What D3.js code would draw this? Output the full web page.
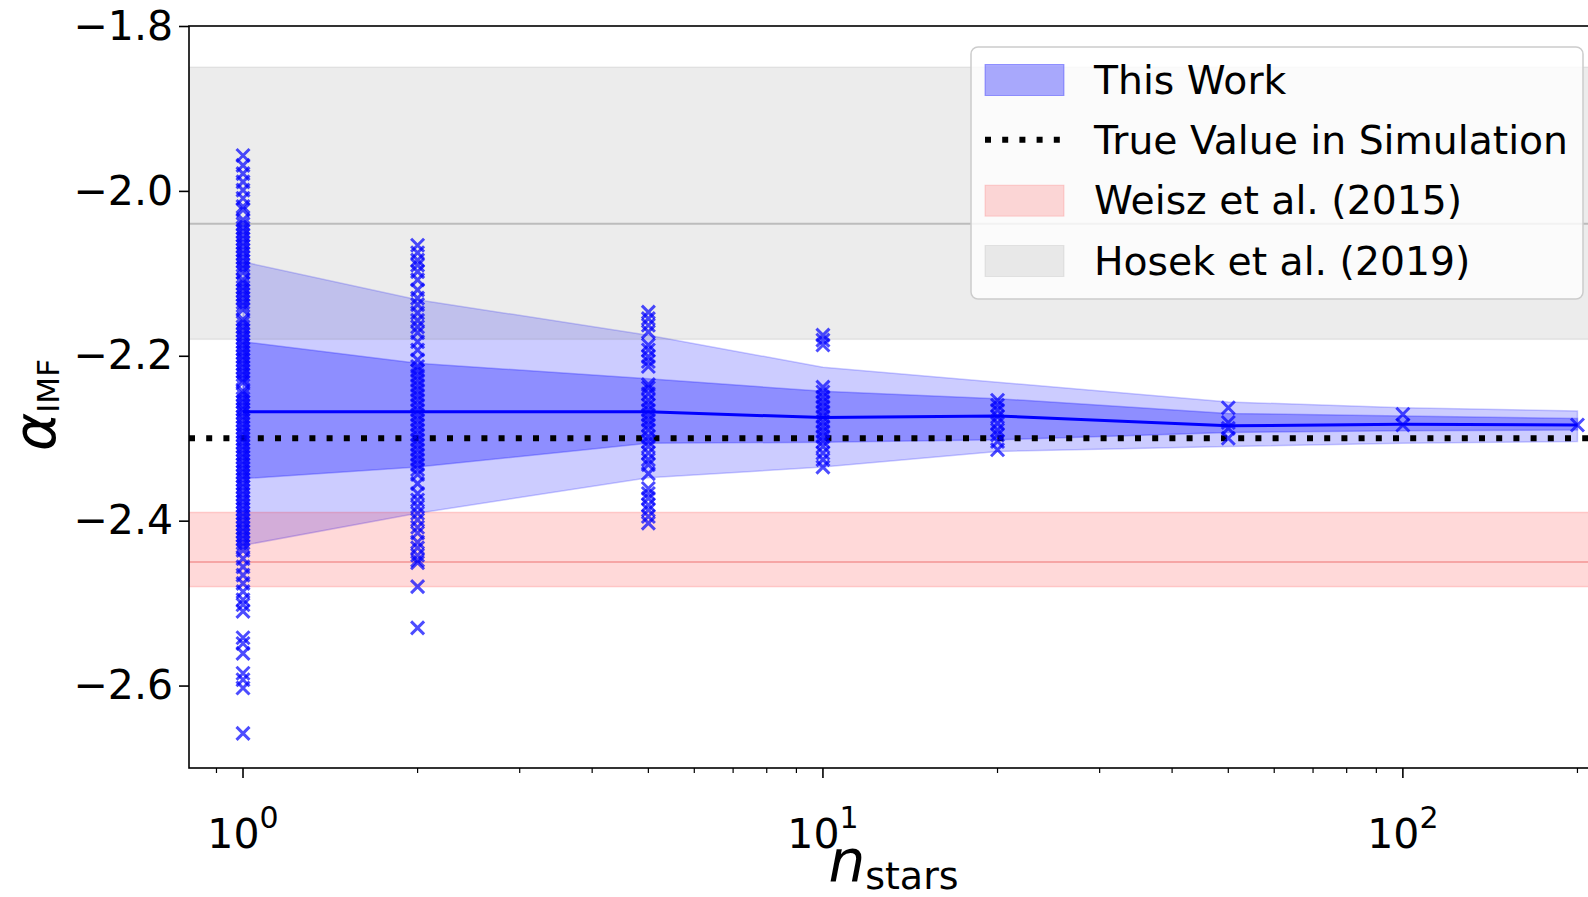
<!DOCTYPE html>
<html>
<head>
<meta charset="utf-8">
<script src="https://cdn.jsdelivr.net/npm/d3@7"></script>
<style>
  html, body { margin: 0; padding: 0; background: #fff; overflow: hidden; }
  svg { display: block; font-family: "DejaVu Sans", sans-serif; }
</style>
</head>
<body>
<svg id="chart"></svg>
<script>
// Number of stars per cluster
const nStars = [1, 2, 5, 10, 20, 50, 100, 200];

// Median and credible bands of alpha_IMF
const medianAlpha = [-2.268, -2.268, -2.268, -2.275, -2.273, -2.285, -2.283, -2.284];
const innerUpper = [-2.183, -2.209, -2.228, -2.243, -2.252, -2.270, -2.273, -2.276];
const innerLower = [-2.349, -2.335, -2.306, -2.305, -2.302, -2.293, -2.291, -2.290];
const outerUpper = [-2.086, -2.132, -2.175, -2.214, -2.232, -2.256, -2.263, -2.267];
const outerLower = [-2.430, -2.391, -2.348, -2.335, -2.316, -2.310, -2.306, -2.304];

// Individual fits (x markers)
const samplesN1 = [-1.957, -1.969, -1.979, -1.989, -1.999, -2.009, -2.019, -2.023, -2.035,
  -2.040, -2.045, -2.049, -2.054, -2.058, -2.063, -2.067, -2.072, -2.076, -2.081, -2.085,
  -2.090, -2.094, -2.099, -2.108, -2.112, -2.117, -2.121, -2.126, -2.130, -2.135, -2.139,
  -2.144, -2.156, -2.160, -2.165, -2.169, -2.174, -2.178, -2.183, -2.187, -2.192, -2.196,
  -2.201, -2.205, -2.210, -2.214, -2.219, -2.223, -2.228, -2.232, -2.243, -2.247, -2.252,
  -2.256, -2.261, -2.265, -2.269, -2.274, -2.278, -2.283, -2.287, -2.292, -2.296, -2.301,
  -2.305, -2.310, -2.314, -2.319, -2.323, -2.328, -2.332, -2.337, -2.341, -2.346, -2.350,
  -2.355, -2.359, -2.364, -2.368, -2.373, -2.377, -2.382, -2.386, -2.391, -2.395, -2.400,
  -2.404, -2.409, -2.413, -2.418, -2.422, -2.427, -2.431, -2.436,
  -2.446, -2.456, -2.466, -2.476, -2.486, -2.496, -2.502, -2.510, -2.542, -2.549, -2.561,
  -2.585, -2.593, -2.603, -2.658];
const samplesN2 = [-2.066, -2.075, -2.084, -2.090, -2.098, -2.108, -2.120, -2.130, -2.138,
  -2.148, -2.157, -2.165, -2.172, -2.183, -2.193, -2.205, -2.213, -2.218, -2.224, -2.230,
  -2.236, -2.242, -2.248, -2.254, -2.260, -2.266, -2.272, -2.278, -2.284, -2.290, -2.296,
  -2.302, -2.308, -2.314, -2.320, -2.326, -2.332, -2.338, -2.344, -2.355, -2.367, -2.375,
  -2.383, -2.391, -2.399, -2.408, -2.415, -2.426, -2.433, -2.442, -2.448, -2.451, -2.480,
  -2.530];
const samplesN5 = [-2.147, -2.155, -2.163, -2.171, -2.187, -2.193, -2.201, -2.207, -2.213,
  -2.235, -2.239, -2.246, -2.254, -2.260, -2.266, -2.272, -2.278, -2.284, -2.290, -2.298,
  -2.304, -2.310, -2.318, -2.326, -2.332, -2.343, -2.361, -2.367, -2.373, -2.381, -2.387,
  -2.395, -2.403];
const samplesN10 = [-2.175, -2.181, -2.187, -2.238, -2.244, -2.250, -2.256, -2.262, -2.268,
  -2.274, -2.280, -2.286, -2.292, -2.298, -2.304, -2.310, -2.318, -2.326, -2.335];
const samplesN20 = [-2.254, -2.260, -2.266, -2.274, -2.282, -2.290, -2.296, -2.304, -2.314];
const samplesN50 = [-2.263, -2.281, -2.288, -2.300];
const samplesN100 = [-2.271, -2.284];
const samplesN200 = [-2.284];
const samplesByN = [samplesN1, samplesN2, samplesN5, samplesN10, samplesN20, samplesN50, samplesN100, samplesN200];

// Reference values
const trueValue = -2.3;
const weisz = [-2.48, -2.45, -2.39];   // low, centre, high
const hosek = [-2.18, -2.04, -1.85];

// Axis ticks
const yTicks = [-2.6, -2.4, -2.2, -2.0, -1.8];
const xMajor = [1, 10, 100];
const legendLabels = ["This Work", "True Value in Simulation", "Weisz et al. (2015)", "Hosek et al. (2019)"];

// Sizes
const width = 1588;
const height = 897;
const marginLeft = 189;
const marginTop = 26;
const plotRight = 1598;
const plotBottom = 768;

const x = d3.scaleLog()
    .domain([0.807, 217])
    .range([marginLeft, plotRight]);

const y = d3.scaleLinear()
    .domain([-2.7, -1.8])
    .range([plotBottom, marginTop]);

const svg = d3.select("#chart")
    .attr("width", width)
    .attr("height", height)
    .attr("viewBox", [0, 0, width, height]);

svg.append("clipPath")
    .attr("id", "clip")
  .append("rect")
    .attr("x", marginLeft)
    .attr("y", marginTop)
    .attr("width", plotRight - marginLeft)
    .attr("height", plotBottom - marginTop);

const plot = svg.append("g").attr("clip-path", "url(#clip)");

const bands = nStars.map((n, i) => ({
  n, med: medianAlpha[i],
  iu: innerUpper[i], il: innerLower[i],
  ou: outerUpper[i], ol: outerLower[i]
}));

// Blue credible bands
const outerArea = d3.area().x(d => x(d.n)).y0(d => y(d.ol)).y1(d => y(d.ou));
const innerArea = d3.area().x(d => x(d.n)).y0(d => y(d.il)).y1(d => y(d.iu));

plot.append("path")
    .attr("d", outerArea(bands))
    .attr("fill", "blue").attr("fill-opacity", 0.2)
    .attr("stroke", "blue").attr("stroke-opacity", 0.2).attr("stroke-width", 1.5);

plot.append("path")
    .attr("d", innerArea(bands))
    .attr("fill", "blue").attr("fill-opacity", 0.3)
    .attr("stroke", "blue").attr("stroke-opacity", 0.25).attr("stroke-width", 1.5);

// Literature bands
function refBand(vals, fill, fillOpacity, lineColor) {
  plot.append("rect")
      .attr("x", marginLeft)
      .attr("width", plotRight - marginLeft)
      .attr("y", y(vals[2]))
      .attr("height", y(vals[0]) - y(vals[2]))
      .attr("fill", fill).attr("fill-opacity", fillOpacity)
      .attr("stroke", fill).attr("stroke-opacity", fillOpacity).attr("stroke-width", 1.5);
  plot.append("line")
      .attr("x1", marginLeft).attr("x2", plotRight)
      .attr("y1", y(vals[1])).attr("y2", y(vals[1]))
      .attr("stroke", lineColor).attr("stroke-width", 2);
}
refBand(hosek, "gray", 0.15, "#bcbcbc");
refBand(weisz, "red", 0.15, "#f6a5a5");

// Median line
plot.append("path")
    .attr("d", d3.line().x(d => x(d.n)).y(d => y(d.med))(bands))
    .attr("fill", "none")
    .attr("stroke", "blue")
    .attr("stroke-width", 3);

// True value
plot.append("line")
    .attr("x1", marginLeft).attr("x2", plotRight)
    .attr("y1", y(trueValue)).attr("y2", y(trueValue))
    .attr("stroke", "black")
    .attr("stroke-width", 6)
    .attr("stroke-dasharray", "6 11.2");

// Markers
const points = nStars.flatMap((n, i) => samplesByN[i].map(v => ({ n, v })));
plot.append("g")
    .attr("fill", "none")
    .attr("stroke", "blue")
    .attr("stroke-width", 3)
    .attr("stroke-opacity", 0.7)
  .selectAll("path")
  .data(points)
  .join("path")
    .attr("transform", d => `translate(${x(d.n)},${y(d.v)})`)
    .attr("d", "M-6.5,-6.5L6.5,6.5M-6.5,6.5L6.5,-6.5");

// Frame
svg.append("rect")
    .attr("x", marginLeft).attr("y", marginTop)
    .attr("width", plotRight - marginLeft)
    .attr("height", plotBottom - marginTop)
    .attr("fill", "none")
    .attr("stroke", "black")
    .attr("stroke-width", 1.6);

// Y axis
const fmt = d3.format(".1f");
const yAxis = svg.append("g")
    .attr("transform", `translate(${marginLeft},0)`)
    .call(d3.axisLeft(y).tickValues(yTicks)
        .tickFormat(d => fmt(d).replace("-", "\u2212"))
        .tickSize(10).tickPadding(6))
    .call(g => g.select(".domain").remove())
    .attr("font-family", "DejaVu Sans")
    .attr("font-size", 41);
yAxis.selectAll("line").attr("stroke-width", 1.6);
yAxis.selectAll("text").attr("fill", "black");

// X axis: minor ticks from the log scale, majors with 10^k labels
const xAxis = svg.append("g").attr("transform", `translate(0,${plotBottom})`);
xAxis.selectAll("line")
  .data(x.ticks())
  .join("line")
    .attr("x1", d => x(d)).attr("x2", d => x(d))
    .attr("y1", 0)
    .attr("y2", d => xMajor.includes(d) ? 10 : 5)
    .attr("stroke", "black")
    .attr("stroke-width", d => xMajor.includes(d) ? 1.6 : 1.2);

const xLabels = xAxis.selectAll("text")
  .data(xMajor)
  .join("text")
    .attr("x", d => x(d))
    .attr("y", 80)
    .attr("text-anchor", "middle")
    .attr("font-size", 41);
xLabels.append("tspan").text("10");
xLabels.append("tspan")
    .attr("font-size", 30)
    .attr("dy", -20)
    .text(d => Math.round(Math.log10(d)));

// Axis titles
const xTitle = svg.append("text")
    .attr("x", (marginLeft + plotRight) / 2)
    .attr("y", 881)
    .attr("text-anchor", "middle");
xTitle.append("tspan").attr("font-size", 58).attr("font-style", "italic").text("n");
xTitle.append("tspan").attr("font-size", 38).attr("dy", 8).text("stars");

const yTitle = svg.append("text")
    .attr("transform", `translate(55,${(marginTop + plotBottom) / 2 + 8}) rotate(-90)`)
    .attr("text-anchor", "middle");
yTitle.append("tspan").attr("font-size", 58).attr("font-style", "italic").text("α");
yTitle.append("tspan").attr("font-size", 31).attr("dy", 4)
    .attr("textLength", 54).attr("lengthAdjust", "spacingAndGlyphs")
    .text("IMF");

// Legend
const legend = svg.append("g");
legend.append("rect")
    .attr("x", 971).attr("y", 47)
    .attr("width", 612).attr("height", 252)
    .attr("rx", 7)
    .attr("fill", "white").attr("fill-opacity", 0.8)
    .attr("stroke", "#cccccc").attr("stroke-width", 1.5);

const rowY = d3.scalePoint().domain(legendLabels).range([79.5, 260.5]);
const rows = legend.selectAll("g")
  .data(legendLabels)
  .join("g")
    .attr("transform", d => `translate(985,${rowY(d)})`);

const swatch = [
  { fill: "blue", op: 0.33 },
  null,
  { fill: "red", op: 0.15 },
  { fill: "gray", op: 0.15 }
];
rows.each(function(d, i) {
  const g = d3.select(this);
  if (swatch[i]) {
    g.append("rect")
        .attr("x", 0).attr("y", -15)
        .attr("width", 79).attr("height", 31)
        .attr("fill", swatch[i].fill).attr("fill-opacity", swatch[i].op)
        .attr("stroke", swatch[i].fill).attr("stroke-opacity", swatch[i].op);
  } else {
    g.append("line")
        .attr("x1", 0).attr("x2", 79)
        .attr("stroke", "black").attr("stroke-width", 6)
        .attr("stroke-dasharray", "6 11.2");
  }
});
rows.append("text")
    .attr("x", 109)
    .attr("y", 14)
    .attr("font-size", 39.3)
    .text(d => d);
</script>
</body>
</html>
